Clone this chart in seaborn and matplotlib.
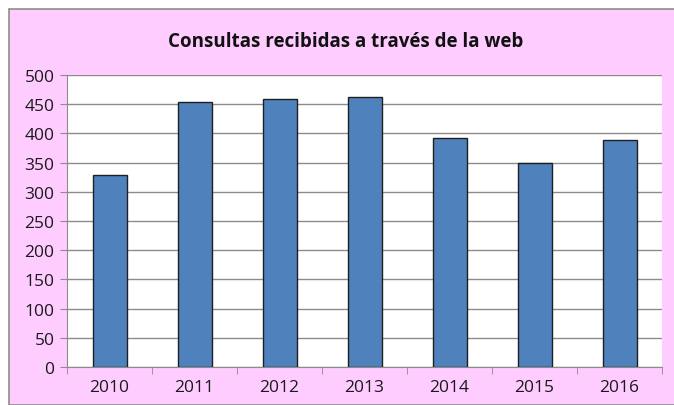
import numpy as np
import pandas as pd
import matplotlib.pyplot as plt
import seaborn as sns
from matplotlib.patches import Rectangle

years = ["2010", "2011", "2012", "2013", "2014", "2015", "2016"]
consultas = [329, 454, 459, 462, 392, 349, 389]
y_ticks = [0, 50, 100, 150, 200, 250, 300, 350, 400, 450, 500]

PINK = "#ffccff"
BLUE = "#4f81bd"

sns.set_style("white")
plt.rcParams["font.family"] = ["Open Sans", "DejaVu Sans"]

df = pd.DataFrame({"year": years, "consultas": consultas})

fig = plt.figure(figsize=(6.74, 4.06), dpi=100)
fig.patch.set_facecolor("white")
# pink chart frame, behind the axes
frame = Rectangle((9 / 674, 0), 1, 1 - 10 / 406, transform=fig.transFigure,
                  facecolor=PINK, edgecolor="#8c8c8c", linewidth=1.2, zorder=-10)
fig.add_artist(frame)

ax = fig.add_axes([67 / 674, 1 - 368 / 406, (662 - 67) / 674, (368 - 76) / 406])
sns.barplot(data=df, x="year", y="consultas", color=BLUE, width=0.4,
            edgecolor="#1f1f1f", linewidth=1.0, saturation=1, ax=ax)

ax.set_facecolor("white")
ax.set_ylim(0, 500)
ax.set_xlim(-0.5, len(years) - 0.5)
ax.set_yticks(y_ticks)
ax.yaxis.grid(True, color="#8c8c8c", linewidth=1.0)
ax.set_axisbelow(True)
ax.set_xlabel("")
ax.set_ylabel("")
for s in ["top", "right"]:
    ax.spines[s].set_visible(False)
ax.spines["left"].set_color("#8c8c8c")
ax.spines["bottom"].set_color("#8c8c8c")

# x ticks between categories
ax.set_xticks(np.arange(len(years) + 1) - 0.5, minor=True)
ax.tick_params(axis="x", which="minor", length=5, color="#8c8c8c", bottom=True)
ax.tick_params(axis="x", which="major", length=0, labelsize=12.5, pad=9, colors="#1a1a1a")
ax.tick_params(axis="y", length=5, color="#8c8c8c", labelsize=12.5, pad=4, colors="#1a1a1a", left=True)

fig.text(346 / 674, 1 - 42 / 406, "Consultas recibidas a través de la web", ha="center", va="center",
         fontsize=13.5, fontweight="bold", color="#111111")

fig.savefig("out.png", dpi=100, facecolor=fig.get_facecolor())
